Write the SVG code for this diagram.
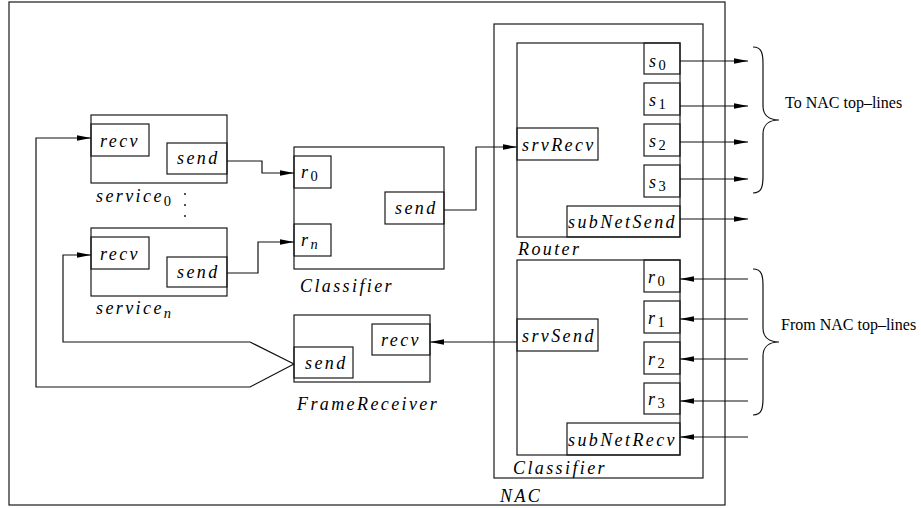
<svg xmlns="http://www.w3.org/2000/svg" width="921" height="508" viewBox="0 0 921 508">
<style>
.box{fill:none;stroke:#1a1a1a;stroke-width:1.2}
.w{fill:none;stroke:#111;stroke-width:1.2}
.m{font-family:"Liberation Serif",serif;font-style:italic;font-size:18px;letter-spacing:2.4px;fill:#000}
.sub{font-style:normal;font-size:14.5px;letter-spacing:0}
.subi{font-style:italic;font-size:14.5px;letter-spacing:0}
.t{font-family:"Liberation Serif",serif;font-size:16px;fill:#000}
</style>
<defs>
<marker id="ah" markerUnits="userSpaceOnUse" markerWidth="15" markerHeight="8" refX="14" refY="4" orient="auto">
<path d="M0,1.2 L14,4 L0,6.8 z" fill="#000"/>
</marker>
</defs>
<rect width="921" height="508" fill="#fff"/>

<g id="frame">
<rect class="box" x="9" y="2" width="716" height="503"/>
<text class="m" x="500" y="502">NAC</text>
</g>

<g id="service0">
<rect class="box" x="91" y="115" width="136" height="68"/>
<rect class="box" x="91" y="124" width="58" height="32"/>
<text class="m" x="100" y="147">recv</text>
<rect class="box" x="167" y="143" width="60" height="31"/>
<text class="m" x="177" y="164">send</text>
<text class="m" x="96" y="202">service<tspan class="sub" dy="4">0</tspan></text>
<circle cx="185" cy="194" r="0.9" fill="#000"/>
<circle cx="185" cy="205" r="0.9" fill="#000"/>
<circle cx="185" cy="216" r="0.9" fill="#000"/>
</g>

<g id="serviceN">
<rect class="box" x="91" y="228" width="136" height="68"/>
<rect class="box" x="91" y="237" width="58" height="32"/>
<text class="m" x="100" y="260">recv</text>
<rect class="box" x="167" y="257" width="60" height="30"/>
<text class="m" x="177" y="278">send</text>
<text class="m" x="96" y="314">service<tspan class="subi" dy="4">n</tspan></text>
</g>

<g id="classifier">
<rect class="box" x="294" y="147" width="150" height="122"/>
<rect class="box" x="294" y="156" width="37" height="32"/>
<text class="m" x="301" y="178">r<tspan class="sub" dy="3">0</tspan></text>
<rect class="box" x="294" y="224" width="37" height="32"/>
<text class="m" x="301" y="246">r<tspan class="subi" dy="3">n</tspan></text>
<rect class="box" x="385" y="192" width="59" height="32"/>
<text class="m" x="395" y="214">send</text>
<text class="m" x="300" y="292">Classifier</text>
</g>

<g id="frameReceiver">
<rect class="box" x="294" y="315" width="136" height="67"/>
<rect class="box" x="294" y="347" width="59" height="31"/>
<text class="m" x="305" y="369">send</text>
<rect class="box" x="372" y="324" width="58" height="31"/>
<text class="m" x="381" y="346">recv</text>
<text class="m" x="297" y="410">FrameReceiver</text>
</g>

<g id="nac">
<rect class="box" x="494" y="24" width="209" height="454"/>
</g>

<g id="router">
<rect class="box" x="517" y="43" width="163" height="194"/>
<rect class="box" x="644" y="43" width="36" height="31"/>
<text class="m" x="649" y="67">s<tspan class="sub" dy="3">0</tspan></text>
<rect class="box" x="644" y="83" width="36" height="32"/>
<text class="m" x="649" y="106">s<tspan class="sub" dy="3">1</tspan></text>
<rect class="box" x="644" y="124" width="36" height="32"/>
<text class="m" x="649" y="147">s<tspan class="sub" dy="3">2</tspan></text>
<rect class="box" x="644" y="165" width="36" height="32"/>
<text class="m" x="649" y="188">s<tspan class="sub" dy="3">3</tspan></text>
<rect class="box" x="567" y="206" width="113" height="31"/>
<text class="m" x="568" y="228">subNetSend</text>
<rect class="box" x="517" y="128" width="81" height="32"/>
<text class="m" x="522" y="151">srvRecv</text>
<text class="m" x="518" y="255">Router</text>
</g>

<g id="nacClassifier">
<rect class="box" x="517" y="260" width="163" height="195"/>
<rect class="box" x="644" y="260" width="36" height="32"/>
<text class="m" x="648" y="283">r<tspan class="sub" dy="3">0</tspan></text>
<rect class="box" x="644" y="301" width="36" height="32"/>
<text class="m" x="648" y="324">r<tspan class="sub" dy="3">1</tspan></text>
<rect class="box" x="644" y="342" width="36" height="32"/>
<text class="m" x="648" y="365">r<tspan class="sub" dy="3">2</tspan></text>
<rect class="box" x="644" y="383" width="36" height="31"/>
<text class="m" x="648" y="405">r<tspan class="sub" dy="3">3</tspan></text>
<rect class="box" x="567" y="423" width="113" height="32"/>
<text class="m" x="568" y="446">subNetRecv</text>
<rect class="box" x="517" y="319" width="81" height="32"/>
<text class="m" x="522" y="342">srvSend</text>
<text class="m" x="513" y="474">Classifier</text>
</g>

<g id="braces">
<path class="w" d="M753,47 C762,47 763,54 763,64 L763,106 C763,115 769,120 779,120 C769,120 763,125 763,134 L763,176 C763,186 762,193 753,193"/>
<text class="t" x="785" y="108">To NAC top–lines</text>
<path class="w" d="M753,269 C762,269 763,276 763,286 L763,328 C763,337 769,342 779,342 C769,342 763,347 763,356 L763,398 C763,408 762,415 753,415"/>
<text class="t" x="781" y="330">From NAC top–lines</text>
</g>

<g id="connectors">
<path class="w" d="M227,161 H262 V173 H294" marker-end="url(#ah)"/>
<path class="w" d="M227,273 H258 V242 H294" marker-end="url(#ah)"/>
<path class="w" d="M444,210 H476 V147 H517" marker-end="url(#ah)"/>
<path class="w" d="M517,342 H430" marker-end="url(#ah)"/>
<path class="w" d="M294,364 L250,387 H36 V138 H91" marker-end="url(#ah)"/>
<path class="w" d="M294,364 L250,342 H63 V255 H91" marker-end="url(#ah)"/>
<path class="w" d="M680,61 H748" marker-end="url(#ah)"/>
<path class="w" d="M680,106 H748" marker-end="url(#ah)"/>
<path class="w" d="M680,142 H748" marker-end="url(#ah)"/>
<path class="w" d="M680,179 H748" marker-end="url(#ah)"/>
<path class="w" d="M680,219 H748" marker-end="url(#ah)"/>
<path class="w" d="M748,279 H680" marker-end="url(#ah)"/>
<path class="w" d="M748,319 H680" marker-end="url(#ah)"/>
<path class="w" d="M748,359 H680" marker-end="url(#ah)"/>
<path class="w" d="M748,401 H680" marker-end="url(#ah)"/>
<path class="w" d="M748,437 H680" marker-end="url(#ah)"/>
</g>
</svg>
